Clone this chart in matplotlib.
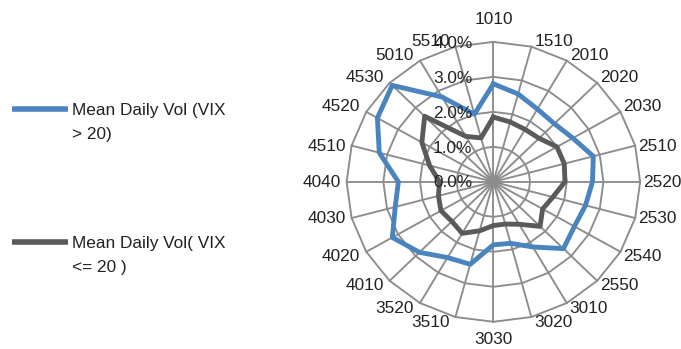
import numpy as np
import matplotlib
matplotlib.use("Agg")
import matplotlib.pyplot as plt
from matplotlib.transforms import offset_copy

# GICS industry-group codes around the radar, clockwise from the top
categories = ['1010', '1510', '2010', '2020', '2030', '2510', '2520', '2530',
              '2540', '2550', '3010', '3020', '3030', '3510', '3520', '4010',
              '4020', '4030', '4040', '4510', '4520', '4530', '5010', '5510']

# Mean daily volatility (%) in high- and low-VIX regimes
vol_high_vix = [2.80, 2.60, 2.40, 2.35, 2.50, 2.82, 2.70, 2.60, 2.55, 2.70,
                2.15, 1.82, 1.80, 2.44, 2.50, 2.85, 3.18, 2.77, 2.59, 3.22,
                3.65, 3.90, 2.80, 2.00]
vol_low_vix = [1.85, 1.77, 1.73, 1.76, 2.00, 2.00, 1.95, 1.68, 1.55, 1.80,
               1.40, 1.25, 1.25, 1.45, 1.70, 1.60, 1.65, 1.55, 1.47, 1.80,
               2.25, 2.65, 1.50, 1.30]

series_labels = ['Mean Daily Vol (VIX\n> 20)', 'Mean Daily Vol( VIX\n<= 20 )']
series_colors = ['#4a84bf', '#5a5a5d']

r_ticks = [0, 1, 2, 3, 4]
r_tick_labels = ['0.0%', '1.0%', '2.0%', '3.0%', '4.0%']

plt.rcParams['font.family'] = ['Liberation Sans', 'DejaVu Sans']
text_color = '#222222'
grid_color = '#8c8c8c'
fs = 12.4
half_cap = 0.358 * fs * 100 / 72   # half the digit height in pixels

W, H = 681, 349
fig = plt.figure(figsize=(W / 100, H / 100), dpi=100)

ax = fig.add_axes([0.509, 0.078, 0.431, 0.802], projection='polar')
ax.set_aspect('auto')
ax.set_theta_zero_location('N')
ax.set_theta_direction(-1)
ax.set_ylim(0, r_ticks[-1])
ax.grid(False)
ax.spines['polar'].set_visible(False)
ax.set_xticks([])
ax.set_yticks([])
ax.patch.set_alpha(0)

n = len(categories)
angles = np.linspace(0, 2 * np.pi, n, endpoint=False)
closed = np.append(angles, angles[0])
r_max = r_ticks[-1]

# polygonal rings and spokes
for level in r_ticks[1:]:
    ax.plot(closed, np.full(n + 1, level), color=grid_color, lw=1.35,
            clip_on=False, zorder=1)
for th in angles:
    ax.plot([th, th], [0, r_max], color=grid_color, lw=1.35,
            clip_on=False, zorder=1)

# data series
for vals, col in zip([vol_high_vix, vol_low_vix], series_colors):
    v = np.append(vals, vals[0])
    ax.plot(closed, v, color=col, lw=3.5, solid_joinstyle='round',
            clip_on=False, zorder=3)

# category labels, anchored next to the outer ring vertex
for th, cat in zip(angles, categories):
    s, c = np.sin(th), np.cos(th)
    if abs(s) < 0.1:
        ha, dx = 'center', 0
    elif s > 0:
        ha, dx = 'left', 3
    else:
        ha, dx = 'right', -6
    if abs(c) < 0.3:
        dy = -half_cap + 1
    elif c > 0:
        dy = 17.5 if abs(s) < 0.1 else 0.5
    else:
        dy = -22.3 if abs(s) < 0.1 else -9.5
    tr = offset_copy(ax.transData, fig=fig, x=dx, y=dy, units='dots')
    ax.text(th, r_max, cat, transform=tr, ha=ha, va='baseline', fontsize=fs,
            color=text_color, zorder=5)

# radial value labels along the top spoke
for level, lab in zip(r_ticks, r_tick_labels):
    tr = offset_copy(ax.transData, fig=fig, x=-21, y=-half_cap + 0.5,
                     units='dots')
    ax.text(0, level, lab, transform=tr, ha='right', va='baseline',
            fontsize=fs, color=text_color, zorder=6)

# legend on the left
lax = fig.add_axes([0, 0, 0.45, 1])
lax.set_xlim(0, 0.45 * W)
lax.set_ylim(H, 0)
lax.axis('off')
legend_rows = [109, 242]
for row, lab, col in zip(legend_rows, series_labels, series_colors):
    lax.plot([12, 68], [row, row], color=col, lw=4, solid_capstyle='butt')
    first, second = lab.split('\n')
    lax.text(72, row + half_cap, first, ha='left', va='baseline',
             fontsize=fs, color=text_color)
    lax.text(72, row + 24 + half_cap, second, ha='left', va='baseline',
             fontsize=fs, color=text_color)

fig.savefig('out.png', dpi=100)
